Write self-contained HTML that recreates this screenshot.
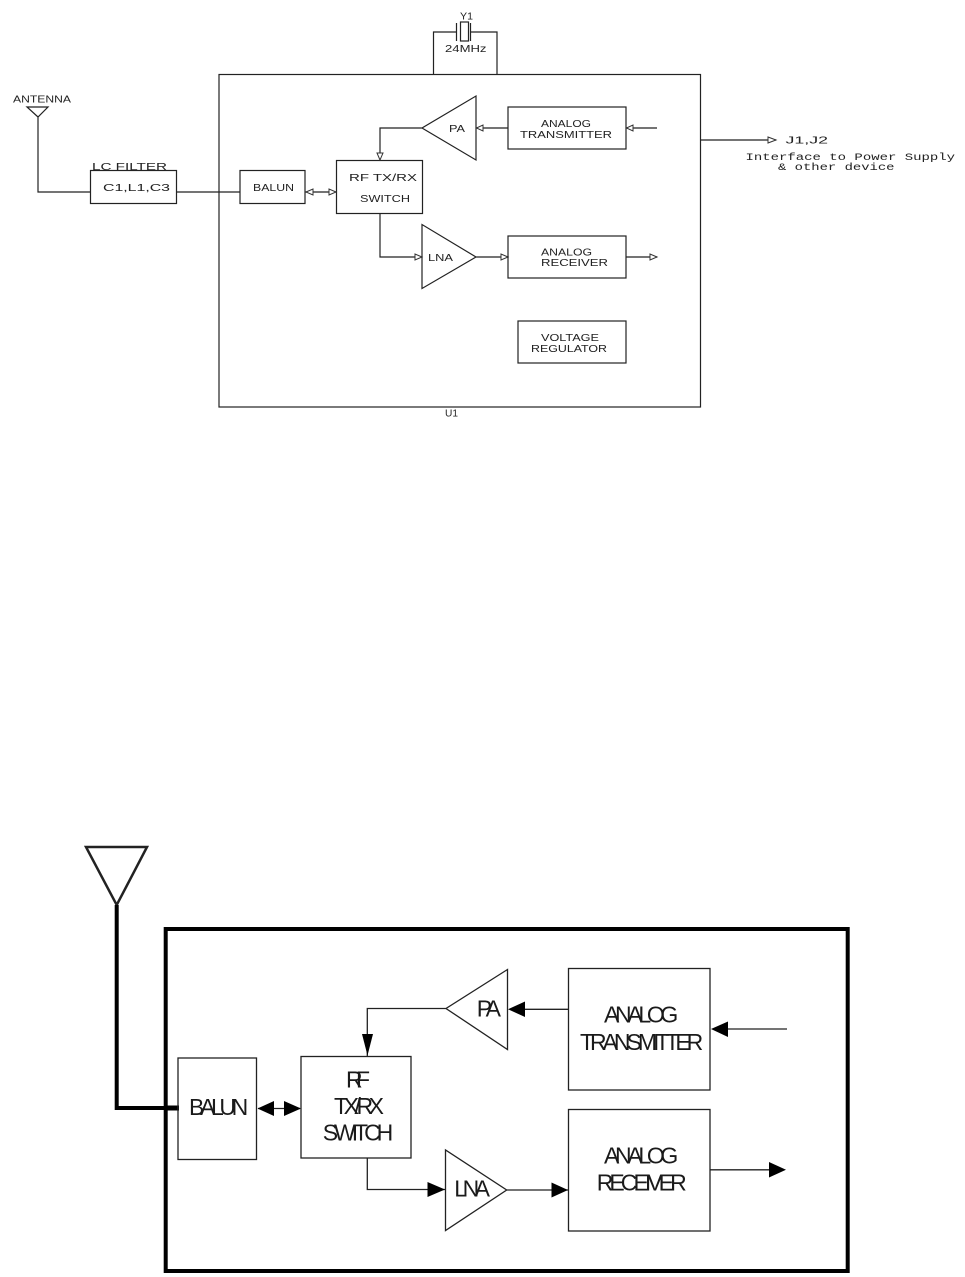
<!DOCTYPE html>
<html>
<head>
<meta charset="utf-8">
<style>
html,body{margin:0;padding:0;background:#fff;}
svg{display:block;}
text{font-family:"Liberation Sans",sans-serif;fill:#111;}
.t text{font-size:10px;fill:#222;}
.b text{font-size:23px;fill:#1a1a1a;}
.l{fill:none;stroke:#222;stroke-width:1.2;}
.a{fill:#fff;stroke:#333;stroke-width:1;}
.k{fill:#000;stroke:none;}
.m{fill:none;stroke:#222;stroke-width:1.3;}
.h{fill:none;stroke:#000;stroke-width:4;}
</style>
</head>
<body>
<svg width="965" height="1277" viewBox="0 0 965 1277" xmlns="http://www.w3.org/2000/svg">
<g class="t">
<rect class="l" x="219" y="74.5" width="481.5" height="332.5"/>
<path class="l" d="M433.5 74V32H456M470 32H497V74"/>
<path class="l" d="M456.5 23V41M470.5 23V41"/>
<rect class="l" x="460.5" y="22" width="8" height="19"/>
<path class="l" d="M27 107H48L38 117ZM38 117V192H90"/>
<rect class="l" x="90.5" y="170.5" width="86" height="33"/>
<path class="l" d="M176.5 192H240"/>
<rect class="l" x="240" y="170.5" width="65" height="33"/>
<rect class="l" x="336.5" y="160.5" width="86" height="53"/>
<path class="l" d="M305 192H336"/>
<path class="a" d="M306 192L313 189V195ZM336 192L329 189V195Z"/>
<path class="l" d="M476 96V160L422 128ZM422 128H380V160"/>
<path class="a" d="M380 160L377 153H383Z"/>
<rect class="l" x="508" y="107" width="118" height="42"/>
<path class="l" d="M476 128H508M626 128H657"/>
<path class="a" d="M476.5 128L483 125V131ZM626.5 128L633 125V131Z"/>
<path class="l" d="M700 140H776"/>
<path class="a" d="M776 140L768 137V143Z"/>
<path class="l" d="M380 213V257H422M422 224.5V288.5L476 257ZM476 257H508"/>
<path class="a" d="M422 257L415 254V260ZM508 257L501 254V260Z"/>
<rect class="l" x="508" y="236" width="118" height="42"/>
<path class="l" d="M626 257H657"/>
<path class="a" d="M657 257L650 254V260Z"/>
<rect class="l" x="518" y="321" width="108" height="42"/>
<text x="13" y="102.5" textLength="58" lengthAdjust="spacingAndGlyphs">ANTENNA</text>
<text x="92" y="170" textLength="75" lengthAdjust="spacingAndGlyphs">LC  FILTER</text>
<text x="103" y="191" textLength="67" lengthAdjust="spacingAndGlyphs">C1,L1,C3</text>
<text x="253" y="191" textLength="41" lengthAdjust="spacingAndGlyphs">BALUN</text>
<text x="349" y="181" textLength="68" lengthAdjust="spacingAndGlyphs">RF  TX/RX</text>
<text x="360" y="202" textLength="50" lengthAdjust="spacingAndGlyphs">SWITCH</text>
<text x="449" y="132" textLength="16" lengthAdjust="spacingAndGlyphs">PA</text>
<text x="460" y="19.5" textLength="13" lengthAdjust="spacingAndGlyphs">Y1</text>
<text x="445" y="52" textLength="41.5" lengthAdjust="spacingAndGlyphs">24MHz</text>
<text x="541" y="127" textLength="50" lengthAdjust="spacingAndGlyphs">ANALOG</text>
<text x="520" y="138" textLength="92" lengthAdjust="spacingAndGlyphs">TRANSMITTER</text>
<text x="785.5" y="143.5" textLength="42.5" lengthAdjust="spacingAndGlyphs">J1,J2</text>
<text x="745.5" y="160" textLength="209.5" lengthAdjust="spacingAndGlyphs" style="font-family:'Liberation Mono',monospace">Interface to Power Supply</text>
<text x="778" y="170" textLength="116.5" lengthAdjust="spacingAndGlyphs" style="font-family:'Liberation Mono',monospace">&amp; other device</text>
<text x="428" y="261" textLength="25" lengthAdjust="spacingAndGlyphs">LNA</text>
<text x="541" y="255.5" textLength="51" lengthAdjust="spacingAndGlyphs">ANALOG</text>
<text x="541" y="266" textLength="67" lengthAdjust="spacingAndGlyphs">RECEIVER</text>
<text x="541" y="341" textLength="58" lengthAdjust="spacingAndGlyphs">VOLTAGE</text>
<text x="531" y="352" textLength="76" lengthAdjust="spacingAndGlyphs">REGULATOR</text>
<text x="445" y="416.5" textLength="13" lengthAdjust="spacingAndGlyphs">U1</text>
</g>
<g class="b">
<path class="m" d="M86 847H147L116.7 905Z" style="stroke-width:2.5"/>
<rect class="h" x="165.7" y="929" width="682" height="342"/>
<path class="h" d="M116.7 905V1108H179"/>
<path class="h" d="M165 1108H179" style="stroke-width:5"/>
<rect class="m" x="178" y="1058" width="78.5" height="101.5"/>
<rect class="m" x="301" y="1056.5" width="110" height="101.5"/>
<path class="m" d="M258 1108.5H300"/>
<path class="k" d="M257.5 1108.5L274 1101V1116ZM301 1108.5L284 1101V1116Z"/>
<path class="m" d="M507.5 969.5V1049.5L446 1008.5ZM446 1008.5H367.3V1056"/>
<path class="k" d="M367.5 1055.5L362 1034H373Z"/>
<path class="m" d="M367.3 1158V1189.5H445"/>
<path class="k" d="M445 1189.5L427.5 1182V1197Z"/>
<path class="m" d="M445.5 1150V1230.5L506.7 1190ZM506.7 1190H568"/>
<path class="k" d="M568 1190L551.5 1182.5V1197.5Z"/>
<rect class="m" x="568.5" y="968.5" width="141.5" height="121.5"/>
<rect class="m" x="568.5" y="1109.5" width="141.5" height="121.5"/>
<path class="m" d="M568 1009.3H510"/>
<path class="k" d="M508 1009.3L525 1001.5V1017Z"/>
<path class="m" d="M787 1029H715"/>
<path class="k" d="M711 1029L728 1021.5V1037Z"/>
<path class="m" d="M710 1169.8H775"/>
<path class="k" d="M786 1169.8L769 1162V1177.5Z"/>
<text x="189" y="1115" textLength="59.3" lengthAdjust="spacing">BALUN</text>
<text x="346" y="1087.3" textLength="24" lengthAdjust="spacing">RF</text>
<text x="334" y="1114" textLength="50" lengthAdjust="spacing">TX/RX</text>
<text x="322.7" y="1140.7" textLength="70.6" lengthAdjust="spacing">SWITCH</text>
<text x="454.3" y="1196.7" textLength="35.7" lengthAdjust="spacing">LNA</text>
<text x="476.7" y="1016.7" textLength="24.3" lengthAdjust="spacing">PA</text>
<text x="604" y="1022.7" textLength="74.3" lengthAdjust="spacing">ANALOG</text>
<text x="580" y="1050" textLength="123.3" lengthAdjust="spacing">TRANSMITTER</text>
<text x="604" y="1163.3" textLength="74.3" lengthAdjust="spacing">ANALOG</text>
<text x="596.7" y="1190.5" textLength="90" lengthAdjust="spacing">RECEIVER</text>
</g>
</svg>
</body>
</html>
